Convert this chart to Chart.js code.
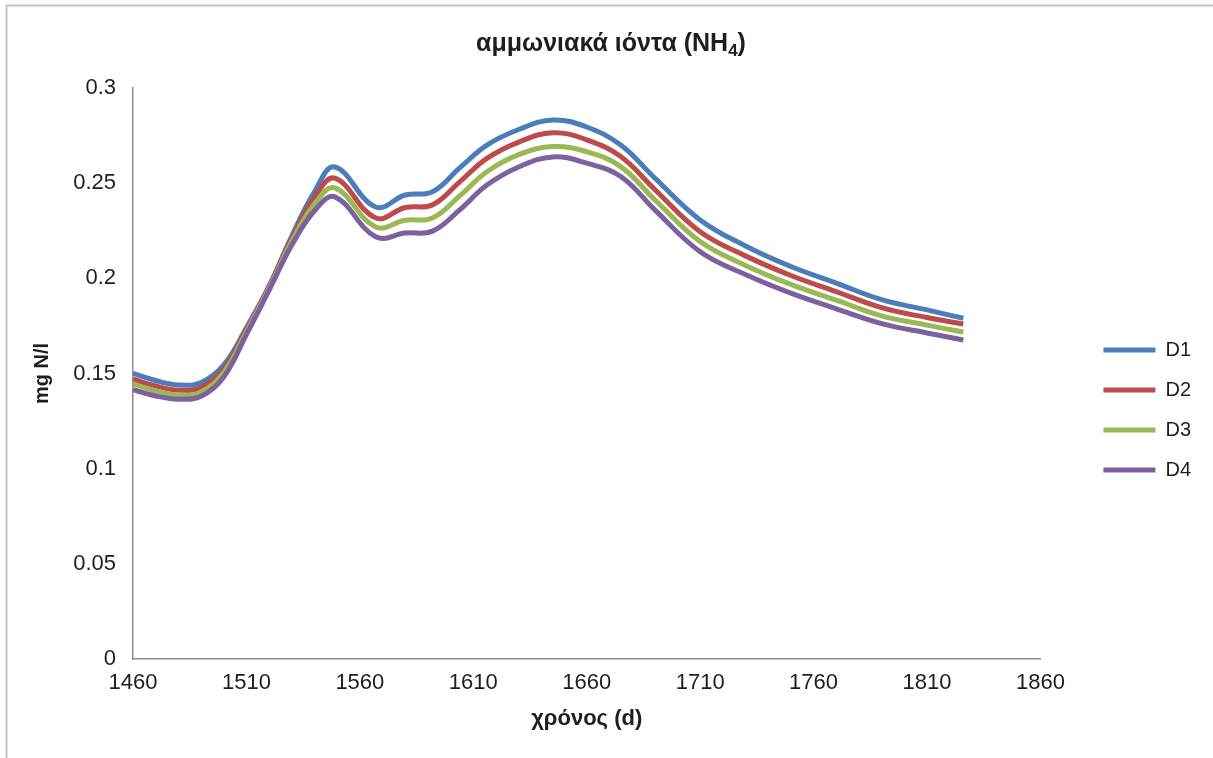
<!DOCTYPE html>
<html>
<head>
<meta charset="utf-8">
<title>αμμωνιακά ιόντα (NH4)</title>
<script src="https://cdn.jsdelivr.net/npm/chart.js@4/dist/chart.umd.min.js"></script>
<style>
  html, body { margin: 0; padding: 0; background: #fff; }
  canvas { display: block; }
</style>
</head>
<body>
<canvas id="nh4-chart" width="1213" height="758"></canvas>
<script>
// time axis (days) and the four depth series
const days = [1460, 1470, 1480, 1490, 1500, 1510, 1520, 1530, 1540, 1549, 1567, 1580, 1592,
  1604, 1616, 1630, 1645, 1660, 1675, 1690, 1710, 1730, 1750, 1770, 1790, 1810, 1826];

const d1 = [0.1500, 0.1463, 0.1440, 0.1452, 0.1545, 0.1740, 0.1960, 0.2222, 0.2455, 0.2585, 0.2375, 0.2438, 0.2455,
  0.2580, 0.2700, 0.2782, 0.2832, 0.2795, 0.2700, 0.2527, 0.2307, 0.2170, 0.2062, 0.1975, 0.1888, 0.1834, 0.1790];
const d2 = [0.1470, 0.1435, 0.1412, 0.1427, 0.1525, 0.1730, 0.1955, 0.2210, 0.2425, 0.2526, 0.2317, 0.2372, 0.2386,
  0.2507, 0.2630, 0.2716, 0.2765, 0.2728, 0.2640, 0.2467, 0.2245, 0.2118, 0.2015, 0.1930, 0.1846, 0.1794, 0.1760];
const d3 = [0.1445, 0.1408, 0.1388, 0.1403, 0.1505, 0.1720, 0.1948, 0.2195, 0.2390, 0.2475, 0.2270, 0.2305, 0.2317,
  0.2433, 0.2560, 0.2650, 0.2692, 0.2665, 0.2587, 0.2413, 0.2193, 0.2068, 0.1968, 0.1885, 0.1803, 0.1754, 0.1718];
const d4 = [0.1415, 0.1382, 0.1365, 0.1380, 0.1482, 0.1705, 0.1938, 0.2175, 0.2355, 0.2428, 0.2218, 0.2238, 0.2248,
  0.2360, 0.2490, 0.2585, 0.2638, 0.2605, 0.2535, 0.2360, 0.2140, 0.2020, 0.1922, 0.1840, 0.1762, 0.1713, 0.1676];

const seriesNames = ["D1", "D2", "D3", "D4"];
const xTicks = [1460, 1510, 1560, 1610, 1660, 1710, 1760, 1810, 1860];
const yTicks = [0, 0.05, 0.1, 0.15, 0.2, 0.25, 0.3];
const yTickLabels = ["0", "0.05", "0.1", "0.15", "0.2", "0.25", "0.3"];

const FONT = "'Liberation Sans', Arial, sans-serif";
const TEXT = "#1e1e1e";
const AXIS = "#8c8c8c";

const toPoints = (vals) => days.map((t, i) => ({ x: t, y: vals[i] }));

// grey frame and white background like the exported sheet chart
const framePlugin = {
  id: "frame",
  beforeDraw(chart) {
    const { ctx, width, height } = chart;
    ctx.save();
    ctx.fillStyle = "#fff";
    ctx.fillRect(0, 0, width, height);
    ctx.strokeStyle = "#c4c4c4";
    ctx.lineWidth = 2;
    ctx.strokeRect(6.5, 5.5, width + 10, height + 10);
    ctx.restore();
  },
};

// title with the subscript 4 in NH4
const titlePlugin = {
  id: "nh4Title",
  afterDraw(chart) {
    const { ctx } = chart;
    const main = "αμμωνιακά ιόντα (NH";
    const sub = "4";
    const tail = ")";
    const big = "bold 25px " + FONT;
    const small = "bold 17px " + FONT;
    ctx.save();
    ctx.fillStyle = TEXT;
    ctx.textBaseline = "alphabetic";
    ctx.font = big;
    const w1 = ctx.measureText(main).width;
    const w3 = ctx.measureText(tail).width;
    ctx.font = small;
    const w2 = ctx.measureText(sub).width;
    let x = 611 - (w1 + w2 + w3) / 2;
    const y = 51;
    ctx.textAlign = "left";
    ctx.font = big;
    ctx.fillText(main, x, y);
    x += w1;
    ctx.font = small;
    ctx.fillText(sub, x, y + 5);
    x += w2;
    ctx.font = big;
    ctx.fillText(tail, x, y);
    ctx.restore();
  },
};

const colors = ["#4a7ebb", "#be4b48", "#98b954", "#7d60a0"];
const values = [d1, d2, d3, d4];

const nh4Chart = new Chart(document.getElementById("nh4-chart"), {
  type: "line",
  data: {
    datasets: values.map((vals, i) => ({
      label: seriesNames[i],
      data: toPoints(vals),
      borderColor: colors[i],
      backgroundColor: colors[i],
      borderWidth: 5,
      tension: 0.4,
      pointRadius: 0,
      fill: false,
      order: values.length - i,
    })),
  },
  options: {
    responsive: false,
    animation: false,
    devicePixelRatio: 1,
    layout: {
      padding: { left: 30, top: 88, right: 12, bottom: 26 },
    },
    plugins: {
      title: { display: false },
      tooltip: { enabled: false },
      legend: {
        position: "right",
        align: "center",
        labels: {
          usePointStyle: true,
          pointStyle: "line",
          pointStyleWidth: 52,
          padding: 20,
          color: TEXT,
          font: { family: FONT, size: 20 },
          sort: (a, b) => a.datasetIndex - b.datasetIndex,
        },
      },
    },
    scales: {
      x: {
        type: "linear",
        min: 1460,
        max: 1860,
        afterBuildTicks: (s) => {
          s.ticks = xTicks.map((v) => ({ value: v }));
        },
        afterFit: (s) => {
          s.height = 73;
        },
        grid: { display: false, drawTicks: false },
        border: { display: true, color: AXIS, width: 1.5 },
        ticks: {
          padding: 11,
          maxRotation: 0,
          autoSkip: false,
          color: TEXT,
          font: { family: FONT, size: 22 },
          callback: (v) => String(v),
        },
        title: {
          display: true,
          text: "χρόνος (d)",
          color: TEXT,
          padding: 0,
          font: { family: FONT, size: 22, weight: "bold" },
        },
      },
      y: {
        min: 0,
        max: 0.3,
        afterBuildTicks: (s) => {
          s.ticks = yTicks.map((v) => ({ value: v }));
        },
        afterFit: (s) => {
          s.width = 103;
        },
        grid: { display: false, drawTicks: false },
        border: { display: true, color: AXIS, width: 1.5 },
        ticks: {
          padding: 17,
          color: TEXT,
          font: { family: FONT, size: 22 },
          callback: (v) => yTickLabels[yTicks.indexOf(v)],
        },
        title: {
          display: true,
          text: "mg N/l",
          color: TEXT,
          padding: 0,
          font: { family: FONT, size: 20, weight: "bold" },
        },
      },
      // empty right axis, only keeps the gap between plot and legend
      gap: {
        type: "linear",
        position: "right",
        display: true,
        grid: { display: false, drawTicks: false },
        border: { display: false },
        ticks: { display: false },
        afterFit: (s) => {
          s.width = 43;
        },
      },
    },
  },
  plugins: [framePlugin, titlePlugin],
});
</script>
</body>
</html>
